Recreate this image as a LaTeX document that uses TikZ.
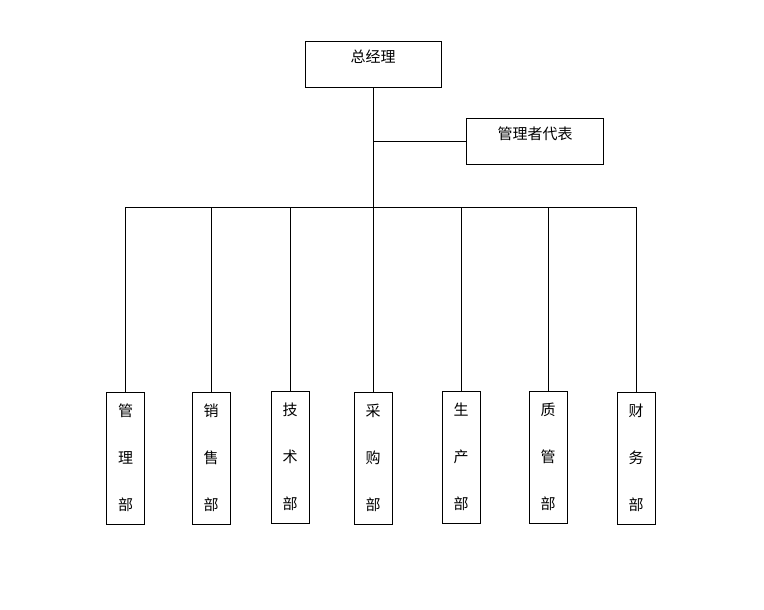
\documentclass[tikz,border=0pt]{standalone}
\usepackage{fontspec}
\usepackage{tikz}
\usetikzlibrary{positioning}
\newfontfamily\cjk{Noto Sans CJK SC}

\tikzset{
	topbox/.style={draw, line width=0.8pt, minimum width=136, minimum height=46, inner sep=0pt, font=\cjk\fontsize{15}{18}\selectfont, text height=11, text depth=14},
	deptbox/.style={draw, line width=0.8pt, minimum width=38, minimum height=132, inner sep=0pt, align=center, font=\cjk\fontsize{15}{47}\selectfont},
	link/.style={line width=0.8pt}
}

\begin{document}
\begin{tikzpicture}[x=1pt, y=-1pt]
	\useasboundingbox (0,0) rectangle (764,610);
	\node[topbox] (zjl) at (373,64) {总经理};
	\node[topbox, minimum width=137] (gldb) at (535,141) {管理者代表};
	\node[deptbox] (glb) at (125.5,458) {管\\理\\部};
	\node[deptbox] (xsb) at (211,458) {销\\售\\部};
	\node[deptbox] (jsb) at (290,457) {技\\术\\部};
	\node[deptbox] (cgb) at (373,458) {采\\购\\部};
	\node[deptbox] (scb) at (461,457) {生\\产\\部};
	\node[deptbox] (zgb) at (548,457) {质\\管\\部};
	\node[deptbox] (cwb) at (636,458) {财\\务\\部};
	\coordinate (busL) at (125.5,207);
	\coordinate (busR) at (636,207);
	\draw[link] (zjl.south) -- (cgb.north);
	\draw[link] (gldb.west) -- (gldb.west -| zjl.south);
	\draw[link] (busL) -- (busR);
	\draw[link] (glb.north |- busL) -- (glb.north);
	\draw[link] (xsb.north |- busL) -- (xsb.north);
	\draw[link] (jsb.north |- busL) -- (jsb.north);
	\draw[link] (scb.north |- busL) -- (scb.north);
	\draw[link] (zgb.north |- busL) -- (zgb.north);
	\draw[link] (cwb.north |- busL) -- (cwb.north);
\end{tikzpicture}
\end{document}
